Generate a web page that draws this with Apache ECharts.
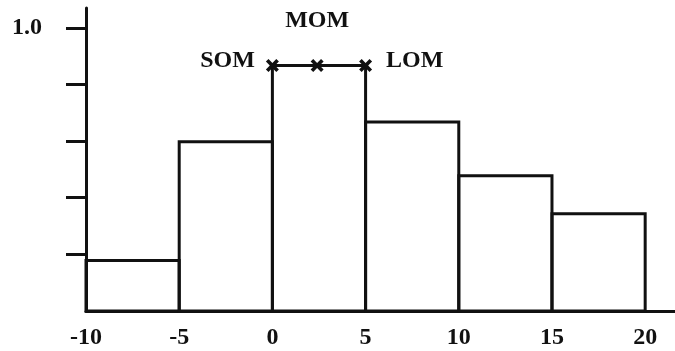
<!DOCTYPE html>
<html>
<head>
<meta charset="utf-8">
<script src="https://cdn.jsdelivr.net/npm/echarts@6/dist/echarts.min.js"></script>
<style>
  html, body { margin: 0; padding: 0; background: #fff; }
  #chart { width: 675px; height: 351px; }
</style>
</head>
<body>
<div id="chart"></div>
<script>
// histogram bins
var binStart = [-10, -5, 0, 5, 10, 15];
var binEnd = [-5, 0, 5, 10, 15, 20];
var binHeight = [0.178, 0.598, 0.867, 0.667, 0.478, 0.343];

// SOM / MOM / LOM markers along the top of the modal bin
var pointNames = ["SOM", "MOM", "LOM"];
var pointX = [0, 2.4, 5];
var pointY = [0.867, 0.867, 0.867];

// axis labels
var xLabels = [-10, -5, 0, 5, 10, 15, 20];
var yTicks = [0.2, 0.4, 0.6, 0.8, 1.0];
var yLabels = [1.0];

var font = "Liberation Serif";
var ink = "#111";
var fs = 24;

var binData = binStart.map(function (s, i) {
  return [s, binEnd[i], binHeight[i]];
});

var labelPos = ["left", "top", "right"];
var labelDist = [11, 26, 14];
var pointData = pointX.map(function (x, i) {
  return {
    value: [x, pointY[i]],
    label: {
      show: true,
      formatter: pointNames[i],
      position: labelPos[i],
      distance: labelDist[i],
      offset: i === 1 ? [0, 0] : [0, -5]
    }
  };
});

var myChart = echarts.init(document.getElementById("chart"));
myChart.setOption({
  animation: false,
  grid: { left: 86, right: 0, top: 8, bottom: 40 },
  xAxis: {
    type: "value",
    min: -10,
    max: 21.6,
    splitLine: { show: false },
    axisLine: { onZero: false, lineStyle: { color: ink, width: 3 } },
    axisTick: { show: false },
    axisLabel: {
      customValues: xLabels,
      margin: 15,
      color: ink,
      fontFamily: font,
      fontWeight: "bold",
      fontSize: fs
    }
  },
  yAxis: {
    type: "value",
    min: 0,
    max: 1.07,
    splitLine: { show: false },
    axisLine: { show: true, onZero: false, lineStyle: { color: ink, width: 3 } },
    axisTick: {
      show: true,
      customValues: yTicks,
      length: 20,
      lineStyle: { color: ink, width: 3 }
    },
    axisLabel: {
      customValues: yLabels,
      formatter: function (v) { return v.toFixed(1); },
      margin: 44,
      color: ink,
      fontFamily: font,
      fontWeight: "bold",
      fontSize: fs
    }
  },
  series: [
    {
      type: "custom",
      data: binData,
      encode: { x: [0, 1], y: 2 },
      renderItem: function (params, api) {
        var p0 = api.coord([api.value(0), api.value(2)]);
        var p1 = api.coord([api.value(1), 0]);
        return {
          type: "rect",
          shape: { x: p0[0], y: p0[1], width: p1[0] - p0[0], height: p1[1] - p0[1] },
          style: { fill: "none", stroke: ink, lineWidth: 3 }
        };
      }
    },
    {
      type: "line",
      data: pointData,
      symbol: "path://M0,2 L2,0 L5,3 L8,0 L10,2 L7,5 L10,8 L8,10 L5,7 L2,10 L0,8 L3,5 Z",
      symbolSize: 13,
      itemStyle: { color: ink },
      lineStyle: { color: ink, width: 3 },
      label: {
        color: ink,
        fontFamily: font,
        fontWeight: "bold",
        fontSize: fs
      },
      z: 5
    }
  ]
});
</script>
</body>
</html>
